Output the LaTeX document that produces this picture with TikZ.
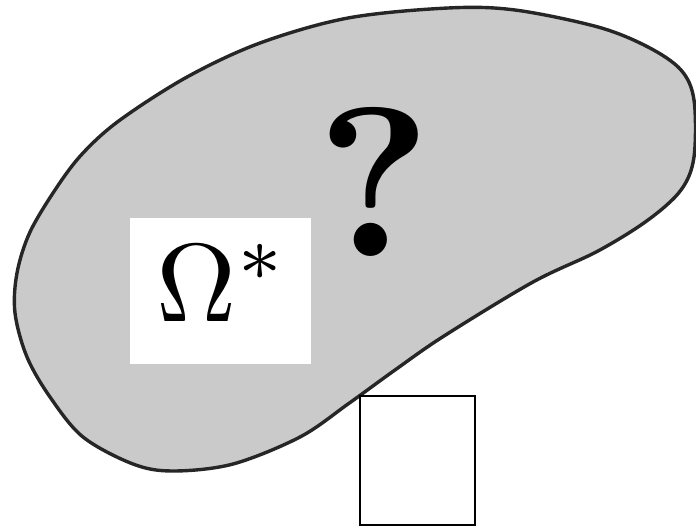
\documentclass[tikz,border=0pt]{standalone}
\usepackage{tikz}
\usetikzlibrary{positioning}
\definecolor{blobgray}{RGB}{202,202,202}

\begin{document}
\begin{tikzpicture}[x=1pt,y=-1pt,
    blob/.style={draw=black!85,line width=3.4pt,fill=blobgray},
    whitebox/.style={fill=white,inner sep=0pt},
    smallsquare/.style={draw=black,line width=1.3pt,fill=white,inner sep=0pt}]
  \useasboundingbox (0,0) rectangle (696,528);
  % the region
  \draw[blob] plot[smooth cycle,tension=0.55] coordinates {
    (348,18) (448,8) (515,10) (598,27) (648,47) (681,70) (694,100)
    (694,157) (681,190) (648,220) (598,251) (533,282) (444,336)
    (395,370) (348,404) (300,437) (233,464) (173,471) (133,464)
    (83,437) (50,397) (27,357) (15,313) (17,273) (30,232) (57,187)
    (83,153) (120,120) (187,77) (260,43)};
  % labels
  \node[whitebox,minimum width=181pt,minimum height=146pt] (omegabox) at (220.5,291) {};
  \node[inner sep=0pt,scale=11.1] (omega) at ([xshift=2pt,yshift=8pt]omegabox.center)
    {$\Omega^{*}$};
  \node[inner sep=0pt,scale=21.3] (question) at (374,182)
    {\bfseries ?};
  % the square
  \node[smallsquare,minimum width=115pt,minimum height=129pt] (square) at (417.5,460.5) {};
\end{tikzpicture}
\end{document}
